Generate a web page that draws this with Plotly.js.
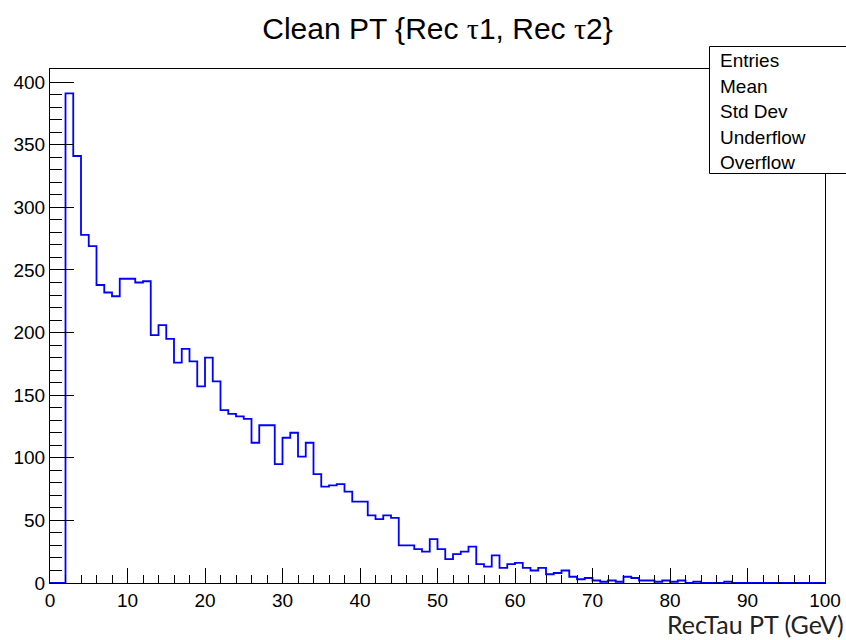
<!DOCTYPE html>
<html>
<head>
<meta charset="utf-8">
<script src="https://cdn.plot.ly/plotly-3.0.1.min.js"></script>
<style>html,body{margin:0;padding:0;background:#fff;}#chart{width:846px;height:640px;}</style>
</head>
<body>
<div id="chart"></div>
<script>
// Bin low edges (GeV), 1 GeV bins from 0 to 100
var binLowEdges = [0,1,2,3,4,5,6,7,8,9,10,11,12,13,14,15,16,17,18,19,20,21,22,23,24,25,26,27,28,29,30,31,32,33,34,35,36,37,38,39,40,41,42,43,44,45,46,47,48,49,50,51,52,53,54,55,56,57,58,59,60,61,62,63,64,65,66,67,68,69,70,71,72,73,74,75,76,77,78,79,80,81,82,83,84,85,86,87,88,89,90,91,92,93,94,95,96,97,98,99];
var upperEdge = 100;
// Bin contents
var counts = [0,0,391,341,278,269,238,232,229,243,243,240,241,198,206,195,176,187,177,157,180,161,138,135,133,131,112,126,126,95,116,120,101,112,87,77,78,79,73,65,65,54,51,54,52,30,30,27,25,35,27,19,23,25,29,15,13,22,12,15,16,12,10,12,7,8,10,5,3,4,2,1,2,1,5,4,2,2,1,2,1,2,0,1,0,0,0,1,0,0,0,0,0,0,0,0,0,0,0,0];
var yTickVals = [0,50,100,150,200,250,300,350,400];
var xTickVals = [0,10,20,30,40,50,60,70,80,90,100];
var statLabels = ["Entries","Mean","Std Dev","Underflow","Overflow"];
var titleText = "Clean PT {Rec <span style=\"font-family:'Liberation Serif'\">τ</span>1, Rec <span style=\"font-family:'Liberation Serif'\">τ</span>2}";
var xTitleText = "RecTau PT (GeV)";

var xs = binLowEdges.concat([upperEdge]);
var ys = counts.concat([counts[counts.length-1]]);

var W = 846, H = 640, L = 50, R = 21, T = 69, B = 57;
var pw = W - L - R, ph = H - T - B;
function px(x){ return (x - L) / pw; }
function py(y){ return (H - B - y) / ph; }

var font = "Liberation Sans, Arial, sans-serif";

var annotations = [];
var rowY = [60, 86, 111, 137, 162];
statLabels.forEach(function(s, i){
  annotations.push({xref:'paper', yref:'paper', x:px(718), y:py(rowY[i]), xanchor:'left', yanchor:'middle',
    text:s, showarrow:false, font:{family:font, size:19, color:'#000'}});
});
annotations.push({xref:'paper', yref:'paper', x:px(845), y:py(640), xanchor:'right', yanchor:'bottom',
  borderpad:0, text:xTitleText, showarrow:false, font:{family:'Lato, Open Sans, sans-serif', size:25, color:'#222'}});

var trace = {
  type:'scatter', mode:'lines', x:xs, y:ys,
  line:{shape:'hv', color:'#0000ff', width:1.8},
  hoverinfo:'skip', cliponaxis:true
};

var layout = {
  width:W, height:H,
  margin:{l:L, r:R, t:T, b:B, pad:0},
  paper_bgcolor:'#fff', plot_bgcolor:'#fff',
  showlegend:false,
  title:{text:titleText, x:0.5, xref:'paper', xanchor:'center', y:1-28/H, yref:'container', yanchor:'middle',
    font:{family:font, size:30, color:'#000'}},
  xaxis:{range:[0,100], tickvals:xTickVals, ticktext:xTickVals.map(String),
    ticks:'inside', ticklen:15, tickwidth:1, tickcolor:'#000',
    minor:{dtick:2, ticklen:8, ticks:'inside', tickcolor:'#000', tickwidth:1},
    showgrid:false, zeroline:false, showline:true, mirror:true, linecolor:'#000', linewidth:1,
    tickfont:{family:font, size:19, color:'#000'}, fixedrange:true},
  yaxis:{range:[0,410.5], tickvals:yTickVals, ticktext:yTickVals.map(String),
    ticks:'inside', ticklen:24, tickwidth:1, tickcolor:'#000',
    minor:{dtick:10, ticklen:12, ticks:'inside', tickcolor:'#000', tickwidth:1},
    showgrid:false, zeroline:false, showline:true, mirror:true, linecolor:'#000', linewidth:1,
    tickfont:{family:font, size:19, color:'#000'}, fixedrange:true},
  shapes:[{type:'rect', xref:'paper', yref:'paper', x0:px(709.5), x1:px(852), y0:py(46.5), y1:py(173.5),
    line:{color:'#000', width:1}, fillcolor:'#fff', layer:'above'}],
  annotations:annotations
};

Plotly.newPlot('chart', [trace], layout, {staticPlot:true, displayModeBar:false});
</script>
</body>
</html>
